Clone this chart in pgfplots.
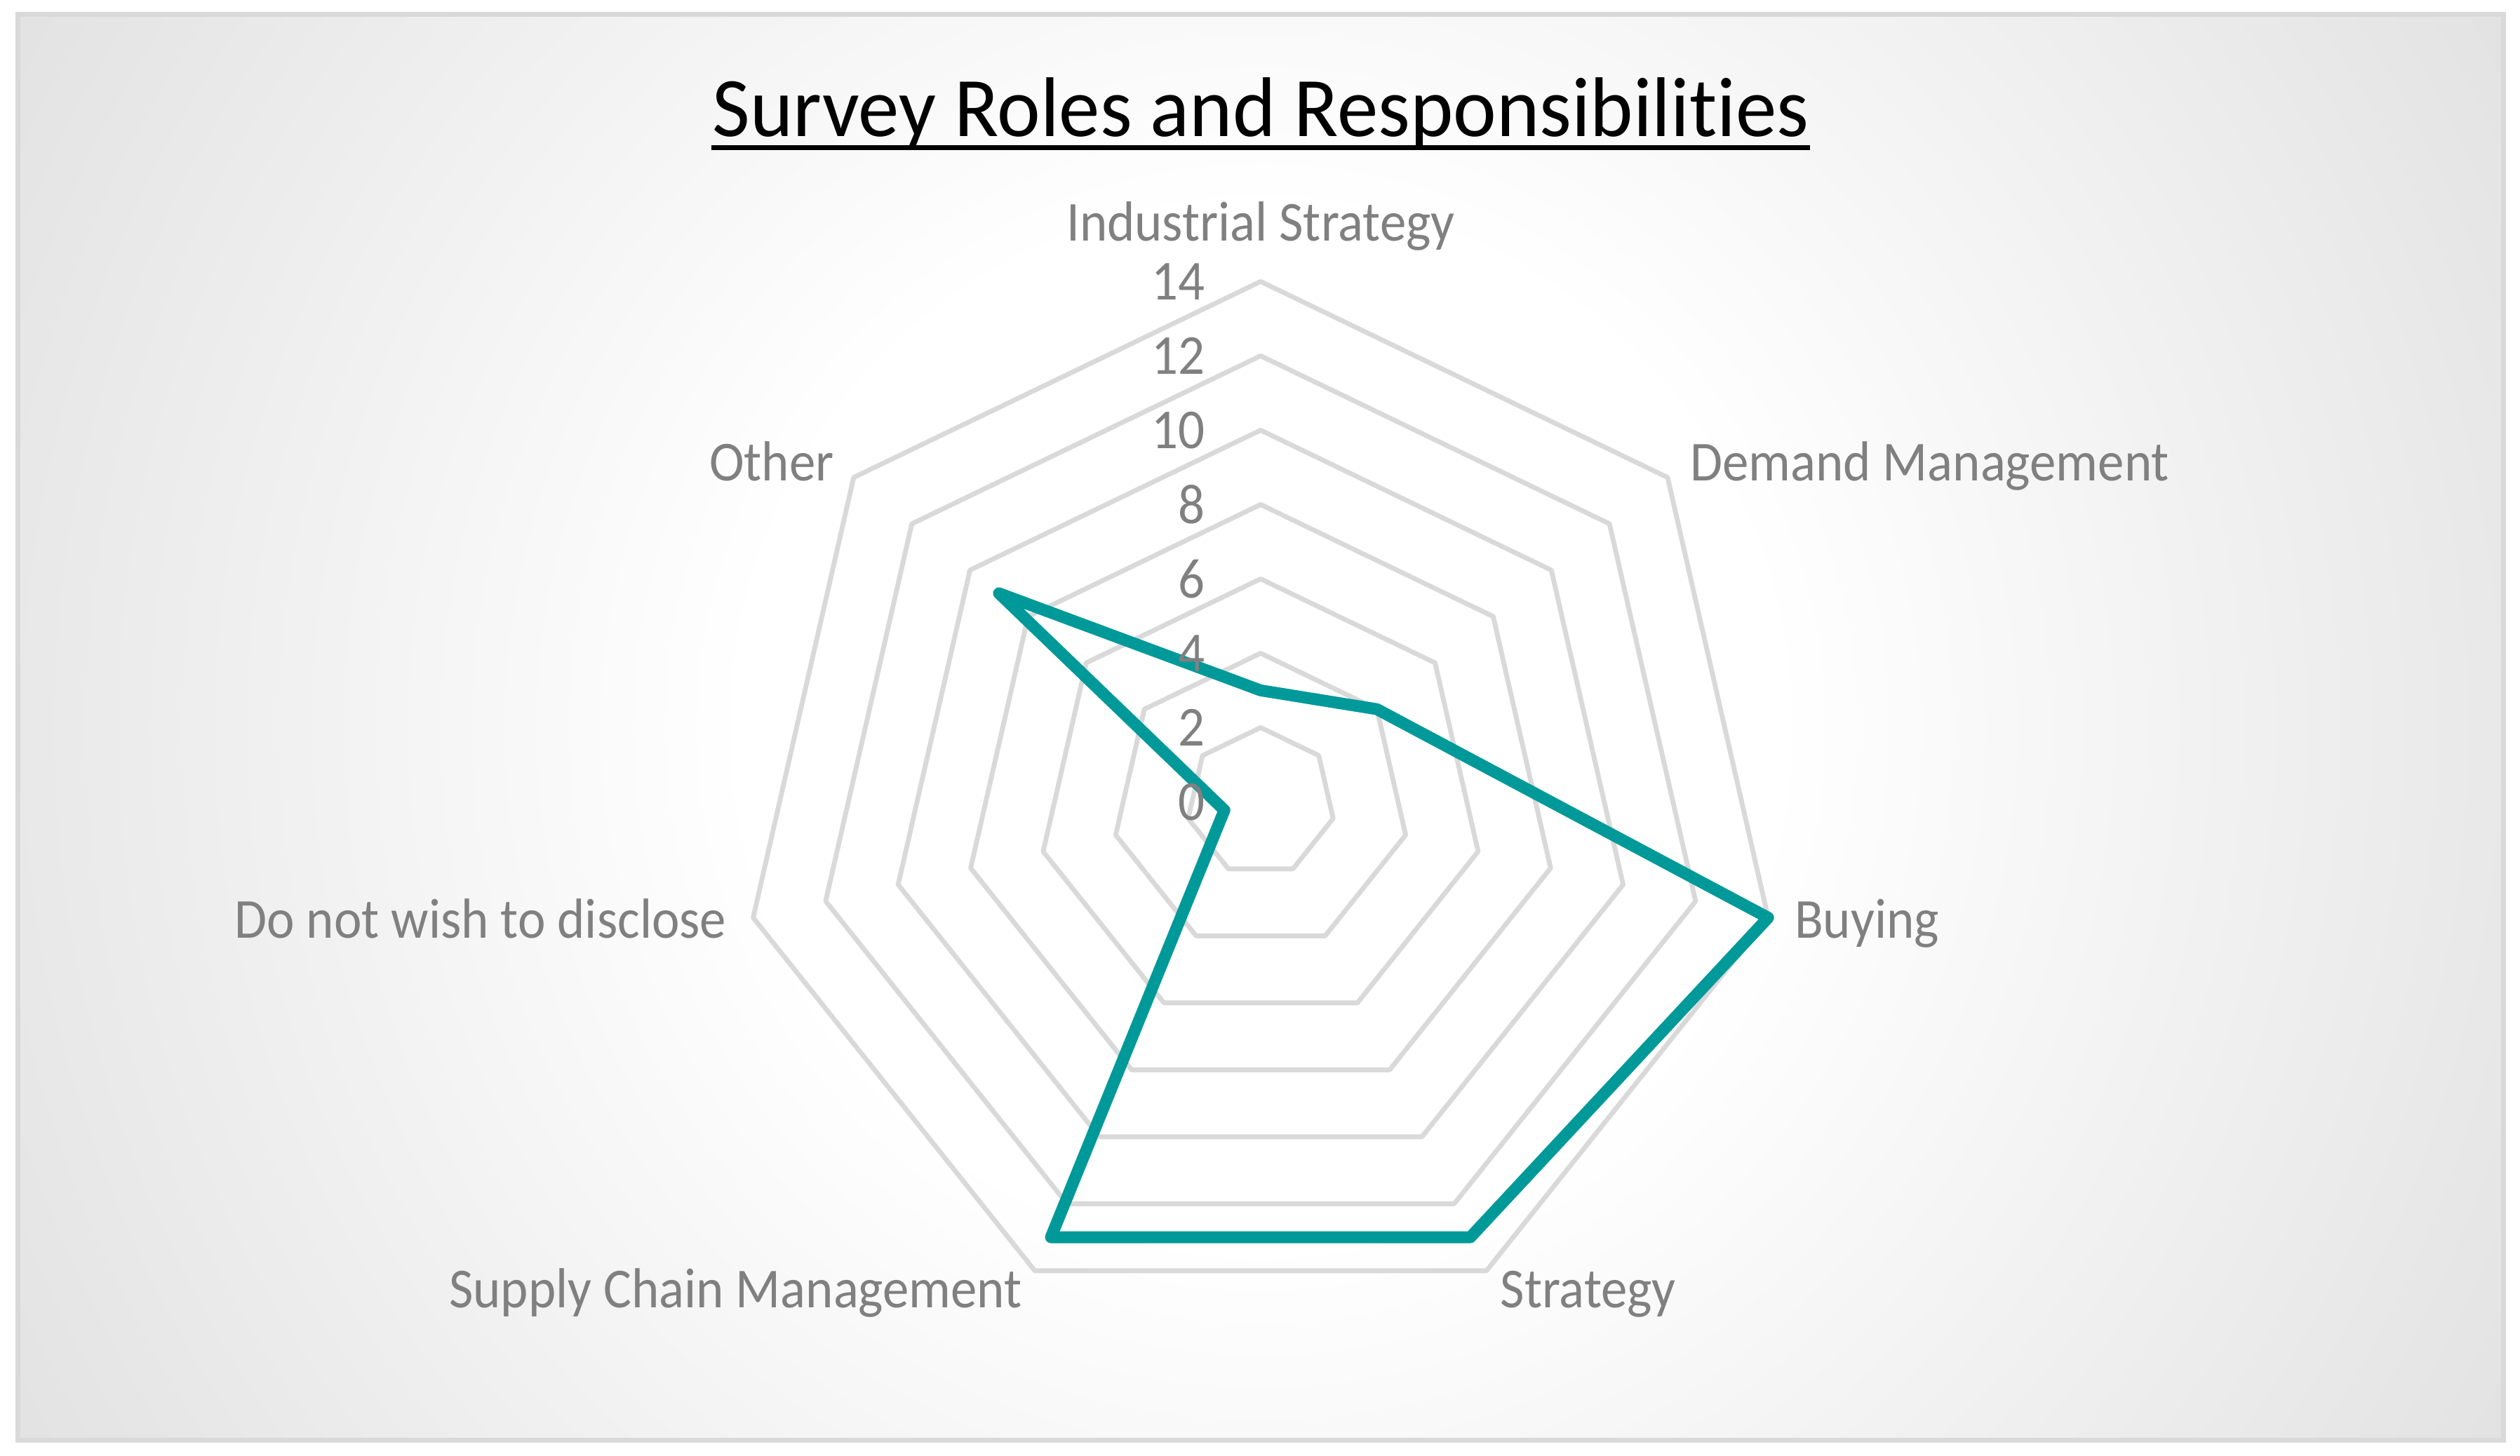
\documentclass[border=0pt]{standalone}
\usepackage{fontspec}
\setmainfont{Carlito}[Ligatures=NoCommon]
\newfontfamily\labfont{Carlito}[FakeStretch=0.93, Ligatures=NoCommon]
\newfontfamily\titlefont{Carlito}[FakeStretch=0.967, Ligatures=NoCommon]
\usepackage{pgfplots}
\usepackage{pgfplotstable}
\usepgfplotslibrary{polar}
\pgfplotsset{compat=1.18}
\definecolor{srteal}{RGB}{0,153,153}
\definecolor{gridgray}{RGB}{217,217,217}
\definecolor{labelgray}{RGB}{128,128,128}
\definecolor{bgedge}{RGB}{182,182,182}
\pgfdeclareradialshading{chartbg}{\pgfpoint{0bp}{0bp}}{color(0bp)=(white); color(9bp)=(white); color(50bp)=(bgedge)}

% category angle (deg, clockwise from top) and count
\pgfplotstableread{
angle value
90 3
38.5714 4
-12.8571 14
-64.2857 13
-115.7143 13
-167.1429 1
-218.5714 9
}\roles

\begin{document}
\begin{tikzpicture}[x=1cm,y=1cm,
    lab/.style={font=\labfont\fontsize{10}{12}\selectfont, text=labelgray, inner sep=0pt}]
  \useasboundingbox (0,0) rectangle (15.68,9.06);
  \begin{scope}
    \clip (0.111,0.096) rectangle (15.577,8.971);
    \shade[shading=chartbg] (7.845,4.535) circle[radius=8.91];
  \end{scope}
  \draw[gridgray, line width=0.32mm] (0.111,0.096) rectangle (15.577,8.971);
  \node[anchor=base, font=\titlefont\fontsize{15}{18}\selectfont, inner sep=0pt] (title) at (7.844,8.21) {Survey Roles and Responsibilities};
  \draw[line width=0.9pt] ([yshift=-0.68mm]title.base west) -- ([yshift=-0.68mm]title.base east);

  \begin{polaraxis}[
      at={(7.844cm,4.069cm)}, anchor=center,
      width=6.478cm, height=6.478cm, scale only axis,
      ymin=0, ymax=14, hide axis, clip=false
    ]
    \pgfplotsinvokeforeach{2,4,...,14}{
      \addplot[gridgray, line width=0.85pt, line join=round] table[x=angle, y expr=#1] {\roles} -- cycle;
    }
    \addplot[srteal, line width=2.1pt, line join=round, line cap=round] table[x=angle, y=value] {\roles} -- cycle;

    \pgfplotsinvokeforeach{0,2,...,14}{
      \node[lab, anchor=east, xshift=-3.4mm] at (axis cs:90,#1) {#1};
    }
    \node[lab, anchor=base, yshift=2.53mm] at (axis cs:90,14) {Industrial Strategy};
    \node[lab, anchor=base west, xshift=1.34mm, yshift=-0.19mm] at (axis cs:38.5714,14) {Demand Management};
    \node[lab, anchor=base west, xshift=1.58mm, yshift=-1.28mm] at (axis cs:-12.8571,14) {Buying};
    \node[lab, anchor=base west, xshift=0.8mm, yshift=-2.29mm] at (axis cs:-64.2857,14) {Strategy};
    \node[lab, anchor=base east, xshift=-0.72mm, yshift=-2.29mm] at (axis cs:-115.7143,14) {Supply Chain Management};
    \node[lab, anchor=base east, xshift=-1.59mm, yshift=-1.28mm] at (axis cs:-167.1429,14) {Do not wish to disclose};
    \node[lab, anchor=base east, xshift=-1.17mm, yshift=-0.19mm] at (axis cs:-218.5714,14) {Other};
  \end{polaraxis}
\end{tikzpicture}
\end{document}
